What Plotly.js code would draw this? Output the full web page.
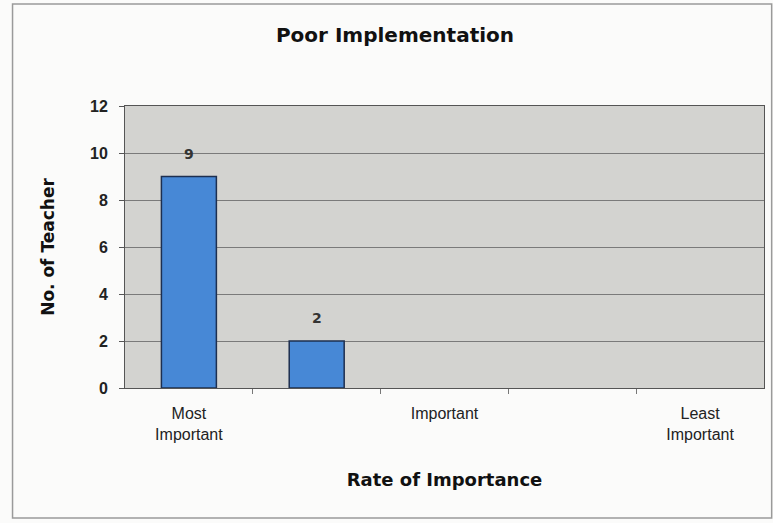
<!DOCTYPE html>
<html>
<head>
<meta charset="utf-8">
<script src="https://cdn.plot.ly/plotly-3.0.1.min.js"></script>
<style>
  html, body { margin: 0; padding: 0; background: #fbfbfa; }
  #plot1 { width: 773px; height: 523px; }
</style>
</head>
<body>
<div id="plot1"></div>
<script>
// rank 1 = most important, 5 = least important
var rank = [1, 2, 3, 4, 5];
var teachers = [9, 2, 0, 0, 0];

var tick_ranks = [1, 3, 5];
var tick_labels = ['Most<br>Important', 'Important', 'Least<br>Important'];

var trace1 = {
  x: rank,
  y: teachers,
  type: 'bar',
  width: 0.43,
  marker: {
    color: '#4788d6',
    // empty bars get no outline so nothing shows on the baseline
    line: {color: '#1d2f50', width: teachers.map(function(v) { return v > 0 ? 1.5 : 0; })}
  },
  hoverinfo: 'x+y'
};

// value labels sit a little above each non-empty bar
var labels = [];
rank.forEach(function(r, i) {
  if (teachers[i] > 0) {
    labels.push({
      x: r, y: teachers[i], text: String(teachers[i]),
      showarrow: false, yanchor: 'middle', yshift: 23,
      font: {family: 'DejaVu Sans', size: 14, color: '#333', weight: 'bold'}
    });
  }
});

var layout = {
  width: 773,
  height: 523,
  margin: {l: 125, r: 9, t: 106, b: 135},
  paper_bgcolor: '#fbfbfa',
  plot_bgcolor: '#d3d3d0',
  showlegend: false,
  font: {family: 'Liberation Sans, Arial', color: '#222'},
  title: {
    text: '<b>Poor Implementation</b>',
    font: {family: 'DejaVu Sans', size: 20, color: '#111'},
    xref: 'container', x: 0.511, xanchor: 'center',
    yref: 'container', y: 0.933, yanchor: 'middle'
  },
  xaxis: {
    range: [0.5, 5.5],
    tickmode: 'array',
    tickvals: tick_ranks,
    ticktext: tick_labels,
    ticks: '',
    ticklabelstandoff: 11,
    tickfont: {size: 16, color: '#222'},
    showgrid: false,
    zeroline: false,
    showline: true,
    linecolor: '#555',
    linewidth: 1,
    mirror: true,
    minor: {tickmode: 'array', tickvals: [1.5, 2.5, 3.5, 4.5], ticks: 'outside', ticklen: 5, tickcolor: '#777', showgrid: false},
    title: {text: '<b>Rate of Importance</b>', font: {family: 'DejaVu Sans', size: 18, color: '#111'}, standoff: 31},
    automargin: false,
    fixedrange: true
  },
  yaxis: {
    range: [0, 12],
    tickmode: 'linear',
    tick0: 0,
    dtick: 2,
    ticks: 'outside',
    ticklen: 5,
    tickcolor: '#555',
    ticklabelstandoff: 8,
    tickfont: {size: 16, color: '#222', weight: 'bold'},
    showgrid: true,
    gridcolor: '#7a7a7a',
    gridwidth: 1,
    zeroline: false,
    showline: true,
    linecolor: '#555',
    linewidth: 1,
    mirror: true,
    title: {text: '<b>No. of Teacher</b>', font: {family: 'DejaVu Sans', size: 17, color: '#111'}, standoff: 31},
    automargin: false,
    fixedrange: true
  },
  annotations: labels,
  shapes: [{
    type: 'rect', xref: 'paper', yref: 'paper',
    x0: -0.176, x1: 1.012, y0: -0.461, y1: 1.362,
    line: {color: '#9a9a9a', width: 1.5}, fillcolor: 'rgba(0,0,0,0)', layer: 'below'
  }]
};

Plotly.newPlot('plot1', [trace1], layout, {displayModeBar: false, staticPlot: true});
</script>
</body>
</html>
